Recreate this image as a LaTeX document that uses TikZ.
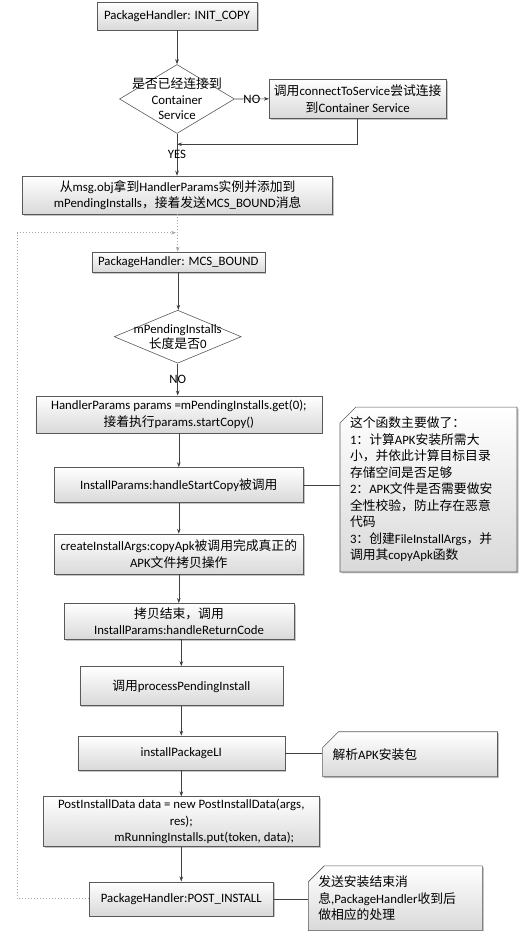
\documentclass[tikz,border=0pt]{standalone}
\usepackage{fontspec}
\setmainfont{Carlito}
\newfontfamily\cjk{Noto Sans CJK SC}
\usetikzlibrary{arrows.meta,positioning,shapes.geometric,shapes.misc,shadows}
\definecolor{edgecol}{HTML}{595959}
\definecolor{linecol}{HTML}{404040}
\definecolor{shadecol}{HTML}{D9D9D9}
\definecolor{loopcol}{HTML}{A6A6A6}

\begin{document}
\begin{tikzpicture}[x=1pt, y=-1pt,
  box/.style={draw=edgecol, line width=0.6pt, top color=white, bottom color=shadecol,
              drop shadow={shadow xshift=1.5pt, shadow yshift=-1.5pt, fill=black!45, opacity=0.5},
              font=\fontsize{12.8}{16.5}\selectfont, align=center, inner sep=2pt},
  decision/.style={draw=edgecol, line width=0.6pt, fill=white, diamond, inner sep=0pt},
  note/.style={box, chamfered rectangle, chamfered rectangle corners=north west,
               chamfered rectangle xsep=8pt, chamfered rectangle ysep=8pt, align=left},
  txt/.style={font=\fontsize{12.8}{15.5}\selectfont, align=center, inner sep=0pt},
  lbl/.style={font=\fontsize{12.8}{15.5}\selectfont, inner sep=0pt},
  flow/.style={draw=linecol, line width=0.6pt, -{Stealth[length=5pt, width=3.6pt]}},
  link/.style={draw=linecol, line width=0.6pt},
  loopline/.style={draw=loopcol, line width=0.7pt, dash pattern=on 0.7pt off 2.3pt,
                   -{Stealth[length=5pt, width=3.6pt]}}]
  \useasboundingbox (0,0) rectangle (519,931);

  % first half: connecting to the container service
  \node[box, minimum width=160pt, minimum height=28pt] (init) at (177,16) {PackageHandler: INIT\_COPY};
  \node[decision, minimum width=115pt, minimum height=69pt] (linked) at (177,99) {};
  \node[txt] (linkedq) at (177,98.7) {{\cjk 是否已经连接到}\\Container\\Service};
  \node[box, minimum width=177pt, minimum height=39pt] (connect) at (357.7,98.8)
    {{\cjk 调用}connectToService{\cjk 尝试连接}\\{\cjk 到}Container Service};
  \node[box, minimum width=310pt, minimum height=38pt] (msg) at (177.7,195)
    {{\cjk 从}msg.obj{\cjk 拿到}HandlerParams{\cjk 实例并添加到}\\mPendingInstalls{\cjk ，接着发送}MCS\_BOUND{\cjk 消息}};
  \coordinate (yesjoin) at (177,144.3);

  \draw[flow] (init.south) -- (linked.north);
  \draw[flow] (linked.east) -- node[lbl] {NO} (connect.west);
  \draw[flow] (connect.south) |- (yesjoin);
  \draw[flow] (linked.south) -- node[lbl] {YES} (linked.south |- msg.north);

  % second half: MCS_BOUND
  \node[box, minimum width=173pt, minimum height=20pt] (mcs) at (178.3,262) {PackageHandler: MCS\_BOUND};
  \node[decision, minimum width=127pt, minimum height=53pt] (pending) at (177.7,336.7) {};
  \node[txt] (pendingq) at (177.7,337) {mPendingInstalls\\{\cjk 长度是否}0};
  \node[box, minimum width=286pt, minimum height=37pt] (handler) at (178.8,414.3)
    {HandlerParams params =mPendingInstalls.get(0);\\{\cjk 接着执行}params.startCopy()};
  \node[box, minimum width=249pt, minimum height=35pt] (startcopy) at (178.8,485)
    {InstallParams:handleStartCopy{\cjk 被调用}};
  \node[note, minimum width=173pt, minimum height=163pt, text width=157pt] (note1) at (428.5,489.5)
    {{\cjk 这个函数主要做了：}\\
     1{\cjk ：计算}APK{\cjk 安装所需大}\\
     {\cjk 小，并依此计算目标目录}\\
     {\cjk 存储空间是否足够}\\
     2{\cjk ：}APK{\cjk 文件是否需要做安}\\
     {\cjk 全性校验，防止存在恶意}\\
     {\cjk 代码}\\
     3{\cjk ：创建}FileInstallArgs{\cjk ，并}\\
     {\cjk 调用其}copyApk{\cjk 函数}};
  \node[box, minimum width=249pt, minimum height=40pt] (copyapk) at (178.8,554)
    {createInstallArgs:copyApk{\cjk 被调用完成真正的}\\APK{\cjk 文件拷贝操作}};
  \node[box, minimum width=230pt, minimum height=36pt] (copydone) at (179,621.3)
    {{\cjk 拷贝结束，调用}\\InstallParams:handleReturnCode};
  \node[box, minimum width=203pt, minimum height=39pt] (process) at (181.3,686)
    {{\cjk 调用}processPendingInstall};
  \node[box, minimum width=207pt, minimum height=34pt] (pkgli) at (181.3,753) {installPackageLI};
  \node[note, minimum width=173pt, minimum height=45pt, text width=155pt] (note2) at (410,754.2)
    {{\cjk 解析}APK{\cjk 安装包}};
  \node[box, minimum width=276pt, minimum height=50pt] (postdata) at (181.3,821.7)
    {PostInstallData data = new PostInstallData(args,\\res);\\\hspace*{46pt}mRunningInstalls.put(token, data);};
  \node[box, minimum width=184pt, minimum height=34pt] (postinst) at (181.3,898.8) {PackageHandler:POST\_INSTALL};
  \node[note, minimum width=169pt, minimum height=57pt, text width=154pt] (note3) at (395.3,898.3)
    {{\cjk 发送安装结束消}\\{\cjk 息},PackageHandler{\cjk 收到后}\\{\cjk 做相应的处理}};
  \coordinate (loopup) at (17,232.7);
  \coordinate (loopin) at (176,232.7);

  \draw[loopline] (msg.south) -- (msg.south |- mcs.north);
  \draw[loopline] (postinst.west) -| (loopup) -- (loopin);
  \draw[flow] (mcs.south) -- (mcs.south |- pending.north);
  \draw[flow] (pending.south) -- node[lbl] {NO} (pending.south |- handler.north);
  \draw[flow] (handler.south) -- (handler.south |- startcopy.north);
  \draw[flow] (startcopy.south) -- (startcopy.south |- copyapk.north);
  \draw[flow] (copyapk.south) -- (copyapk.south |- copydone.north);
  \draw[flow] (copydone.south) -- (copydone.south -| process.north) -- (process.north);
  \draw[flow] (process.south) -- (process.south |- pkgli.north);
  \draw[flow] (pkgli.south) -- (pkgli.south |- postdata.north);
  \draw[flow] (postdata.south) -- (postdata.south |- postinst.north);
  \draw[link] (startcopy.east) -- (startcopy.east -| note1.west);
  \draw[link] (pkgli.east) -- (pkgli.east -| note2.west);
  \draw[link] (postinst.east) -- (postinst.east -| note3.west);
\end{tikzpicture}
\end{document}
